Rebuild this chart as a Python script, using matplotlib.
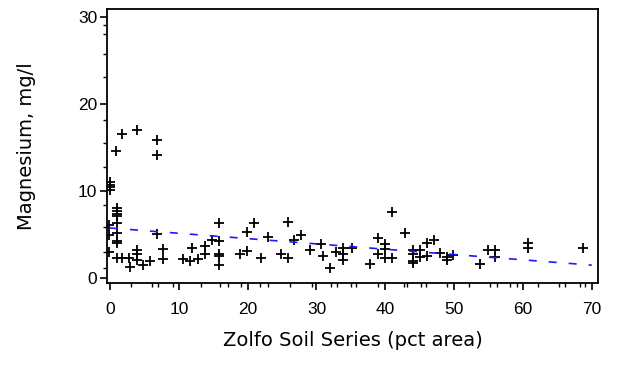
import numpy as np
import matplotlib.pyplot as plt

# Zolfo soil series (pct area) vs magnesium (mg/l)
zolfo = [0.0, 0.0, 0.0, 0.0, -0.2, -0.2, -0.2,
         1.0, 1.0, 1.0, 1.0, 1.0, 1.0, 1.0, 1.0,
         1.0, 1.7, 2.7, 2.9, 3.9, 3.9, 3.9, 4.8, 5.8, 6.8, 7.7, 7.7,
         0.9, 1.8, 3.9, 6.8, 6.8,
         10.6, 11.6, 11.9, 12.8, 13.8, 13.8, 14.8,
         15.8, 15.8, 15.8, 15.8, 15.8, 18.9, 19.9, 19.9, 20.9, 21.9, 22.9,
         24.8, 25.8, 25.9, 26.8, 27.8, 29.0, 30.7, 30.9, 31.9, 32.9,
         33.9, 33.9, 33.9, 35.1, 37.8, 39.0, 39.0, 39.9, 39.9, 39.9,
         40.9, 40.9, 42.8, 44.0, 44.0, 44.0, 44.0, 45.0, 45.0, 46.0, 46.0,
         47.0, 47.9, 48.9, 48.9, 49.9, 53.7, 54.9, 55.9, 55.9,
         60.7, 60.7, 68.7]
magnesium = [11.0, 10.7, 10.4, 10.1, 6.1, 5.0, 3.0,
             8.0, 7.7, 7.4, 7.1, 6.3, 5.2, 4.2, 4.0,
             2.3, 2.3, 2.3, 1.3, 3.2, 2.8, 2.1, 1.5, 2.0, 5.1, 3.3, 2.2,
             14.6, 16.5, 17.0, 15.9, 14.1,
             2.2, 2.0, 3.4, 2.2, 2.8, 3.7, 4.4,
             6.3, 4.2, 2.8, 2.5, 1.5, 2.8, 5.3, 3.1, 6.3, 2.3, 4.7,
             2.8, 6.4, 2.3, 4.4, 5.0, 3.2, 3.9, 2.5, 1.2, 3.0,
             3.5, 2.8, 2.1, 3.4, 1.6, 4.6, 2.8, 3.9, 3.3, 2.3,
             7.6, 2.3, 5.2, 3.2, 2.8, 2.0, 1.7, 3.2, 2.4, 4.0, 2.5,
             4.4, 2.9, 2.4, 2.1, 2.6, 1.6, 3.2, 3.2, 2.4,
             4.0, 3.4, 3.4]

# fitted line
fit_intercept = 5.75
fit_slope = -0.061
fit_x = [0, 70]

x_major = [0, 10, 20, 30, 40, 50, 60, 70]
y_major = [0, 10, 20, 30]
x_minor = [3.0, 6.1, 6.9, 9.2, 13.2, 16.0, 17.1, 19.1, 21.8, 23.0, 26.1, 29.3,
           32.1, 33.0, 35.0, 35.8, 39.0, 42.7, 43.1, 45.2, 45.9, 49.0, 52.2,
           55.2, 56.2, 58.1, 59.1, 62.2, 65.3, 66.1, 68.3, 69.0]
y_minor = [1.1, 3.0, 5.9, 8.4, 12.7, 15.5, 18.2, 23.1, 25.7, 28.0, 29.1]

plt.rcParams['font.family'] = ['Liberation Sans', 'DejaVu Sans']

fig = plt.figure(figsize=(6.17, 3.71), dpi=100)
ax = fig.add_axes([0.1734, 0.2372, 0.7958, 0.7385])

ax.plot(zolfo, magnesium, '+', color='black', markersize=7.5, mew=1.3)
fy = [fit_intercept + fit_slope * v for v in fit_x]
ax.plot(fit_x, fy, color='#1a1aff', lw=1.2, dashes=(4.8, 7.2))

ax.set_xlim(-0.44, 70.9)
ax.set_ylim(-0.57, 30.9)
ax.set_xticks(x_major)
ax.set_yticks(y_major)
ax.set_xticks(x_minor, minor=True)
ax.set_yticks(y_minor, minor=True)
ax.tick_params(which='major', direction='out', length=5, width=1.2,
               labelsize=12.5, colors='black')
ax.tick_params(which='minor', direction='out', length=3, width=1.0)
ax.tick_params(axis='x', which='major', pad=9)
ax.tick_params(axis='y', which='major', pad=2)

for s in ax.spines.values():
    s.set_linewidth(1.3)

ax.set_xlabel('Zolfo Soil Series (pct area)', fontsize=14,
              family='DejaVu Sans', labelpad=10)
ax.set_ylabel('Magnesium, mg/l', fontsize=14, family='DejaVu Sans',
              labelpad=30)

fig.savefig('out.png', dpi=100)
